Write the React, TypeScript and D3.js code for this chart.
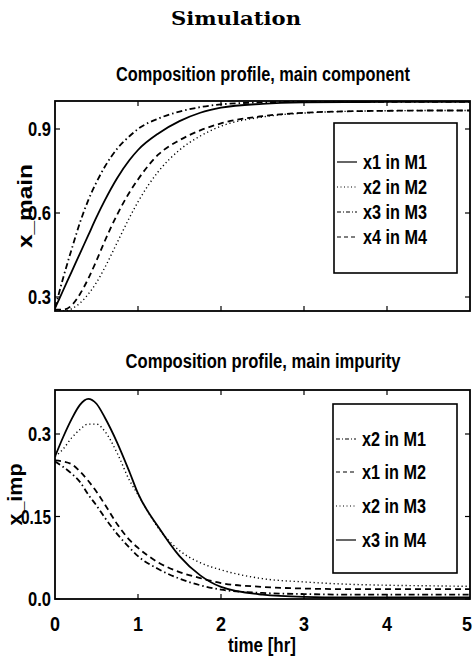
import React from 'react';
import * as d3 from 'd3';

// time grid [hr]
const time = [0, 0.1, 0.2, 0.3, 0.4, 0.5, 0.6, 0.75, 0.9, 1.0, 1.25, 1.5, 1.75, 2.0, 2.5, 3.0, 3.5, 4.0, 4.5, 5.0];

// main component
const x1M1 = [0.26, 0.325, 0.39, 0.455, 0.52, 0.585, 0.645, 0.725, 0.79, 0.825, 0.885, 0.928, 0.958, 0.976, 0.99, 0.995, 0.996, 0.997, 0.997, 0.997];
const x2M2 = [0.255, 0.25, 0.258, 0.278, 0.31, 0.352, 0.405, 0.495, 0.585, 0.64, 0.75, 0.825, 0.875, 0.91, 0.943, 0.957, 0.963, 0.965, 0.966, 0.966];
const x3M3 = [0.26, 0.37, 0.47, 0.565, 0.645, 0.71, 0.765, 0.83, 0.875, 0.9, 0.938, 0.962, 0.978, 0.988, 0.995, 0.997, 0.997, 0.997, 0.997, 0.997];
const x4M4 = [0.255, 0.255, 0.27, 0.31, 0.365, 0.43, 0.5, 0.595, 0.675, 0.72, 0.81, 0.86, 0.895, 0.92, 0.946, 0.958, 0.963, 0.965, 0.966, 0.966];

// main impurity
const imp2M1 = [0.25, 0.24, 0.228, 0.213, 0.19, 0.17, 0.148, 0.118, 0.093, 0.078, 0.054, 0.037, 0.025, 0.017, 0.011, 0.009, 0.008, 0.008, 0.008, 0.008];
const imp1M2 = [0.252, 0.25, 0.245, 0.232, 0.215, 0.195, 0.172, 0.136, 0.107, 0.093, 0.066, 0.049, 0.038, 0.029, 0.022, 0.019, 0.018, 0.018, 0.018, 0.018];
const imp2M3 = [0.259, 0.273, 0.293, 0.308, 0.318, 0.318, 0.305, 0.265, 0.215, 0.19, 0.128, 0.088, 0.066, 0.053, 0.037, 0.031, 0.027, 0.025, 0.024, 0.023];
const imp3M4 = [0.259, 0.295, 0.327, 0.353, 0.364, 0.355, 0.33, 0.284, 0.23, 0.192, 0.13, 0.078, 0.043, 0.022, 0.008, 0.004, 0.003, 0.003, 0.003, 0.003];

const xTicks = [0, 1, 2, 3, 4, 5];
const mainTicks = [0.3, 0.6, 0.9];
const impTicks = [0, 0.15, 0.3];

const FONT = "'Liberation Sans Narrow', 'Arial Narrow', 'Liberation Sans', Arial, sans-serif";

const dashes: Record<string, string | undefined> = {
  solid: undefined,
  dotted: '1.2,2.8',
  dashdot: '6,3,1.5,3',
  dashed: '6,4',
};
const legendDashes: Record<string, string | undefined> = {
  solid: undefined,
  dotted: '1,2.5',
  dashdot: '4,2,1,2',
  dashed: '4,3',
};

type Series = { label: string; values: number[]; style: string };

const mainSeries: Series[] = [
  { label: 'x1 in M1', values: x1M1, style: 'solid' },
  { label: 'x2 in M2', values: x2M2, style: 'dotted' },
  { label: 'x3 in M3', values: x3M3, style: 'dashdot' },
  { label: 'x4 in M4', values: x4M4, style: 'dashed' },
];

const impSeries: Series[] = [
  { label: 'x2 in M1', values: imp2M1, style: 'dashdot' },
  { label: 'x1 in M2', values: imp1M2, style: 'dashed' },
  { label: 'x2 in M3', values: imp2M3, style: 'dotted' },
  { label: 'x3 in M4', values: imp3M4, style: 'solid' },
];

const x = d3.scaleLinear().domain([0, 5]).range([55, 470]);

// condensed bold label, squeezed to a given width
const T = (p: { x: number; y: number; w: number; anchor?: string; size?: number; children: React.ReactNode; transform?: string }) => (
  <text x={p.x} y={p.y} textAnchor={p.anchor || 'start'} fontFamily={FONT} fontWeight="bold" fontSize={p.size || 20}
    textLength={p.w} lengthAdjust="spacingAndGlyphs" transform={p.transform}>{p.children}</text>
);

type PanelProps = {
  top: number;
  bottom: number;
  yDomain: [number, number];
  yTicks: number[];
  tickFmt: (v: number) => string;
  series: Series[];
  title: string;
  titleW: number;
  titleY: number;
  yLabel: string;
  yLabelX: number;
  yLabelW: number;
  legend: { x0: number; x1: number; y0: number; y1: number; rows: number[] };
  xLabels: boolean;
};

const Panel = (props: PanelProps) => {
  const { top, bottom, yDomain, yTicks, tickFmt, series, title, titleW, titleY, yLabel, yLabelX, yLabelW, legend, xLabels } = props;
  const y = d3.scaleLinear().domain(yDomain).range([bottom, top]);
  const line = d3.line<number>()
    .x((d, i) => x(time[i]))
    .y(d => y(d))
    .curve(d3.curveMonotoneX);
  const [xl, xr] = x.range();
  const tl = 5;
  return (
    <g>
      <T x={263} y={titleY} w={titleW} anchor="middle">{title}</T>
      <defs>
        <clipPath id={`clip${top}`}>
          <rect x={xl} y={top} width={xr - xl} height={bottom - top} />
        </clipPath>
      </defs>
      <g clipPath={`url(#clip${top})`}>
        {series.map((s, i) => (
          <path key={i} d={line(s.values) || ''} fill="none" stroke="#000"
            strokeWidth={s.style === 'dotted' ? 1.4 : 1.8} strokeDasharray={dashes[s.style]} />
        ))}
      </g>
      <rect x={xl} y={top} width={xr - xl} height={bottom - top} fill="none" stroke="#000" strokeWidth={1.8} />
      {xTicks.filter(t => t > 0 && t < 5).map(t => (
        <g key={t}>
          <line x1={x(t)} x2={x(t)} y1={bottom} y2={bottom - tl} stroke="#000" strokeWidth={1.2} />
          <line x1={x(t)} x2={x(t)} y1={top} y2={top + tl} stroke="#000" strokeWidth={1.2} />
        </g>
      ))}
      {yTicks.map(t => {
        const s = tickFmt(t);
        return (
          <g key={t}>
            <line x1={xl} x2={xl + tl} y1={y(t)} y2={y(t)} stroke="#000" strokeWidth={1.2} />
            <line x1={xr} x2={xr - tl} y1={y(t)} y2={y(t)} stroke="#000" strokeWidth={1.2} />
            <T x={xl - 4} y={y(t) + 7} w={s.length === 4 ? 30 : 23} anchor="end">{s}</T>
          </g>
        );
      })}
      {xLabels && xTicks.map(t => (
        <T key={t} x={Math.min(x(t), 467)} y={bottom + 32} w={10} anchor="middle">{t}</T>
      ))}
      <T x={0} y={0} w={yLabelW} anchor="middle"
        transform={`translate(${yLabelX},${(top + bottom) / 2}) rotate(-90)`}>{yLabel}</T>
      <rect x={legend.x0} y={legend.y0} width={legend.x1 - legend.x0} height={legend.y1 - legend.y0}
        fill="#fff" stroke="#000" strokeWidth={1.6} />
      {series.map((s, i) => (
        <g key={i}>
          <line x1={legend.x0 + 3} x2={legend.x0 + 23} y1={legend.rows[i]} y2={legend.rows[i]} stroke="#000"
            strokeWidth={s.style === 'dotted' ? 1 : 1.2} strokeDasharray={legendDashes[s.style]} />
          <T x={legend.x0 + 29} y={legend.rows[i] + 7} w={64}>{s.label}</T>
        </g>
      ))}
    </g>
  );
};

const App = () => {
  return (
    <svg width={474} height={661} style={{ position: 'absolute', left: 0, top: 0, background: '#fff' }}>
      <rect width={474} height={661} fill="#fff" />
      <text x={236} y={25} textAnchor="middle" fontFamily="'DejaVu Serif', 'Liberation Serif', serif" fontWeight="bold"
        fontSize={19} textLength={130} lengthAdjust="spacingAndGlyphs">Simulation</text>
      <Panel top={101} bottom={311} yDomain={[0.25, 1.0]} yTicks={mainTicks} tickFmt={d3.format('.1f')}
        series={mainSeries} title="Composition profile, main component" titleW={294} titleY={81}
        yLabel="x_main" yLabelX={32} yLabelW={84}
        legend={{ x0: 334, x1: 457, y0: 123, y1: 273, rows: [162, 187, 212, 237] }} xLabels={false} />
      <Panel top={390} bottom={599} yDomain={[0, 0.38]} yTicks={impTicks}
        tickFmt={v => (v === 0.15 ? '0.15' : d3.format('.1f')(v))}
        series={impSeries} title="Composition profile, main impurity" titleW={275} titleY={368}
        yLabel="x_imp" yLabelX={22} yLabelW={62}
        legend={{ x0: 333, x1: 457, y0: 404, y1: 573, rows: [439, 472, 506, 540] }} xLabels={true} />
      <T x={262} y={652} w={68} anchor="middle">time [hr]</T>
    </svg>
  );
};

export default App;
